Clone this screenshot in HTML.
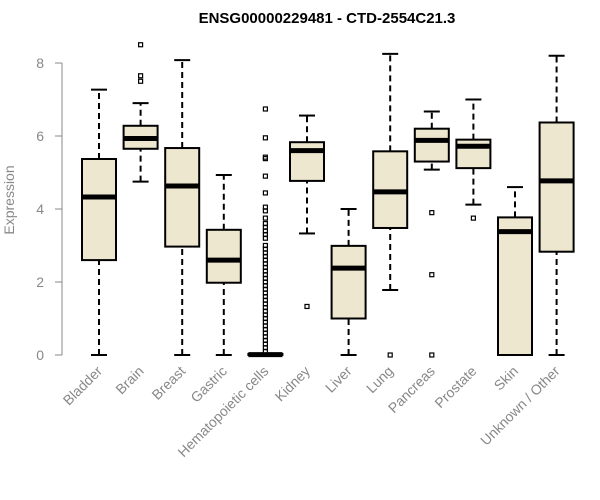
<!DOCTYPE html>
<html><head><meta charset="utf-8"><style>body{margin:0;background:#fff}svg{display:block}text{font-family:"Liberation Sans",Arial,sans-serif}</style></head>
<body>
<svg id="c" width="600" height="500">
<text x="327" y="23" text-anchor="middle" font-weight="bold" font-size="15">ENSG00000229481 - CTD-2554C21.3</text>
<text transform="translate(14,200) rotate(-90)" text-anchor="middle" font-size="14" fill="#888">Expression</text>
</svg>
<script>
const categories=["Bladder","Brain","Breast","Gastric","Hematopoietic cells","Kidney","Liver","Lung","Pancreas","Prostate","Skin","Unknown / Other"];
const whiskLo=[0,4.75,0,0,0,3.33,0,1.78,5.08,4.12,0,0];
const q1=[2.6,5.65,2.97,1.98,0,4.77,1.0,3.48,5.3,5.12,0,2.83];
const medians=[4.33,5.93,4.63,2.6,0.01,5.6,2.38,4.47,5.88,5.72,3.38,4.77];
const q3=[5.37,6.28,5.67,3.43,0.03,5.83,2.99,5.58,6.2,5.9,3.77,6.37];
const whiskHi=[7.27,6.9,8.08,4.93,0.03,6.56,4.0,8.25,6.67,7.0,4.6,8.2];
const outliers=[[],[7.5,7.65,8.5],[],[],[6.74,5.95,5.42,5.38,4.9,4.44,4.05,3.95,3.75,3.6,3.5,3.4,3.3,3.2,3.0,2.9,2.8,2.7,2.6,2.5,2.4,2.3,2.2,2.1,2.0,1.9,1.8,1.7,1.6,1.5,1.4,1.3,1.2,1.1,1.0,0.9,0.8,0.7,0.6,0.5,0.4,0.3,0.2,0.1],[1.33],[],[0],[3.9,2.2,0],[3.75],[],[]];
const yTicks=[0,2,4,6,8];
const ns="http://www.w3.org/2000/svg",svg=document.getElementById('c');
const y=v=>355-v*36.5, x=i=>99+i*41.6;
function mk(t,a,p){const e=document.createElementNS(ns,t);for(const k in a)e.setAttribute(k,a[k]);(p||svg).appendChild(e);return e;}
const ax=mk('line',{x1:62,x2:62,y1:y(0),y2:y(8),stroke:'#888'});


yTicks.forEach(t=>{
 const l=mk('line',{x1:55,x2:62,y1:y(t),y2:y(t),stroke:'#888'});
 
 
 const tx=mk('text',{x:44,y:y(t)+5,'text-anchor':'end','font-size':14,fill:'#888'});tx.textContent=t;
 
 
});
categories.forEach((c,i)=>{
 const cx=x(i),w=17;
 const g=mk('g',{});
 
 
 mk('line',{x1:cx,x2:cx,y1:y(whiskLo[i]),y2:y(q1[i]),stroke:'#000','stroke-width':2,'stroke-dasharray':'6,4'},g);
 mk('line',{x1:cx,x2:cx,y1:y(q3[i]),y2:y(whiskHi[i]),stroke:'#000','stroke-width':2,'stroke-dasharray':'6,4'},g);
 mk('line',{x1:cx-8,x2:cx+8,y1:y(whiskLo[i]),y2:y(whiskLo[i]),stroke:'#000','stroke-width':2},g);
 mk('line',{x1:cx-8,x2:cx+8,y1:y(whiskHi[i]),y2:y(whiskHi[i]),stroke:'#000','stroke-width':2},g);
 mk('rect',{x:cx-w,y:y(q3[i]),width:2*w,height:Math.max(1,y(q1[i])-y(q3[i])),fill:'#EDE7CF',stroke:'#000','stroke-width':2},g);
 mk('line',{x1:cx-w,x2:cx+w,y1:y(medians[i]),y2:y(medians[i]),stroke:'#000','stroke-width':5},g);
 outliers[i].forEach(o=>mk('rect',{x:cx-2,y:y(o)-2,width:4,height:4,fill:'none',stroke:'#000','stroke-width':1.2},g));
 const tx=mk('text',{transform:`translate(${cx+4},372) rotate(-45)`,'text-anchor':'end','font-size':14,fill:'#888'});tx.textContent=c;
 
 
});
</script>
</body></html>
